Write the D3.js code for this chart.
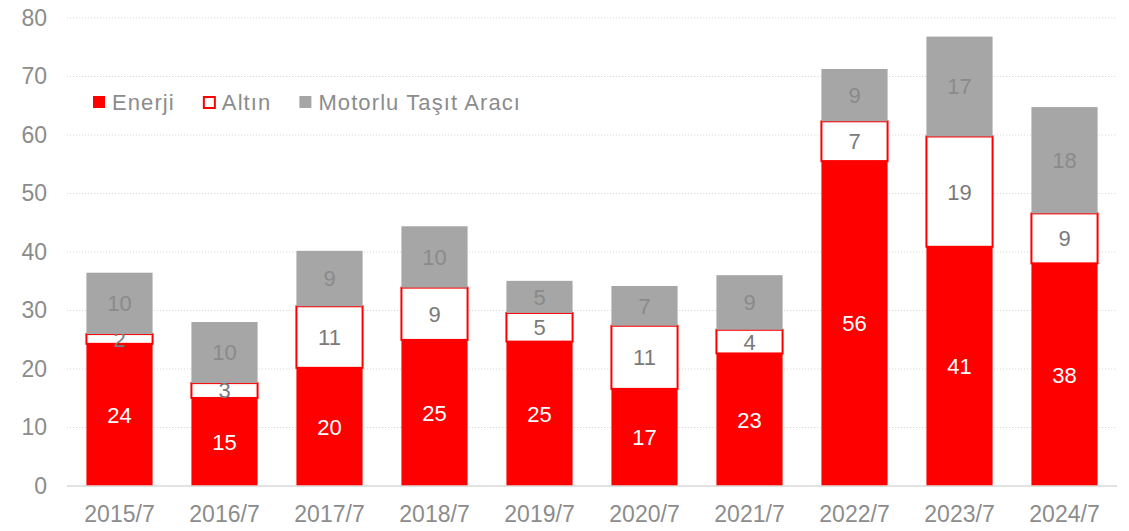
<!DOCTYPE html>
<html>
<head>
<meta charset="utf-8">
<script src="https://cdn.jsdelivr.net/npm/d3@7"></script>
<style>
  body { margin: 0; background: #fff; }
  svg text { font-family: Arial, "Liberation Sans", sans-serif; }
</style>
</head>
<body>
<script>
// Data
const periods = ["2015/7", "2016/7", "2017/7", "2018/7", "2019/7", "2020/7", "2021/7", "2022/7", "2023/7", "2024/7"];
const enerji = [24.3, 15.05, 20.2, 24.97, 24.68, 16.6, 22.66, 55.54, 40.89, 38.06];
const altin  = [1.67, 2.54, 10.52, 8.94, 4.9, 10.79, 4.04, 6.8, 18.86, 8.54];
const motorlu = [10.49, 10.44, 9.48, 10.49, 5.49, 6.8, 9.34, 8.94, 17.07, 18.17];
const yTicks = [0, 10, 20, 30, 40, 50, 60, 70, 80];
const seriesNames = ["Enerji", "Altın", "Motorlu Taşıt Aracı"];

const width = 1129, height = 531;
const margin = { top: 18, right: 12, bottom: 45, left: 67 };
const chartWidth = width - margin.left - margin.right;
const chartHeight = height - margin.top - margin.bottom;

const svg = d3.select("body")
    .append("svg")
    .attr("width", width)
    .attr("height", height)
    .append("g")
    .attr("transform", `translate(${margin.left},${margin.top})`);

const x = d3.scaleBand()
    .domain(periods)
    .range([0, chartWidth])
    .paddingInner(0.37)
    .paddingOuter(0.185);

const y = d3.scaleLinear()
    .domain([0, 80])
    .range([chartHeight, 0]);

// Dotted gridlines
svg.append("g")
    .selectAll("line")
    .data(yTicks.filter(d => d > 0))
    .join("line")
    .attr("x1", 0)
    .attr("x2", chartWidth)
    .attr("y1", d => y(d))
    .attr("y2", d => y(d))
    .attr("stroke", "#d9d9d9")
    .attr("stroke-width", 1.2)
    .attr("stroke-dasharray", "1.2,1.8");

// Y axis labels
const yAxis = svg.append("g")
    .call(d3.axisLeft(y).tickValues(yTicks).tickSize(0).tickPadding(20));
yAxis.select(".domain").remove();
yAxis.selectAll("text")
    .attr("fill", "#8c8c8c")
    .style("font-size", "23px");

// Stack the series
const rows = periods.map((p, i) => ({ period: p, Enerji: enerji[i], "Altın": altin[i], "Motorlu Taşıt Aracı": motorlu[i] }));
const stacked = d3.stack().keys(seriesNames)(rows);

const fills = { "Enerji": "#ff0000", "Altın": "#ffffff", "Motorlu Taşıt Aracı": "#a6a6a6" };
const strokes = { "Enerji": "none", "Altın": "#ff0000", "Motorlu Taşıt Aracı": "none" };
const labelColors = { "Enerji": "#ffffff", "Altın": "#7a7a7a", "Motorlu Taşıt Aracı": "#8a8a8a" };

const layers = svg.append("g")
    .selectAll("g")
    .data(stacked)
    .join("g");

layers.selectAll("rect")
    .data(d => d.map(v => ({ key: d.key, v })))
    .join("rect")
    .attr("x", d => x(d.v.data.period))
    .attr("width", x.bandwidth())
    .attr("y", d => y(d.v[1]))
    .attr("height", d => y(d.v[0]) - y(d.v[1]))
    .attr("fill", d => fills[d.key])
    .attr("stroke", d => strokes[d.key])
    .attr("stroke-width", 2);

// Data labels
layers.selectAll("text")
    .data(d => d.map(v => ({ key: d.key, v })))
    .join("text")
    .attr("x", d => x(d.v.data.period) + x.bandwidth() / 2)
    .attr("y", d => (y(d.v[0]) + y(d.v[1])) / 2)
    .attr("dy", "0.36em")
    .attr("text-anchor", "middle")
    .attr("fill", d => labelColors[d.key])
    .style("font-size", "22px")
    .text(d => Math.round(d.v[1] - d.v[0]));

// Baseline
svg.append("line")
    .attr("x1", 0)
    .attr("x2", chartWidth)
    .attr("y1", y(0))
    .attr("y2", y(0))
    .attr("stroke", "#d9d9d9")
    .attr("stroke-width", 1.5);

// X axis labels
const xAxis = svg.append("g")
    .attr("transform", `translate(0,${chartHeight})`)
    .call(d3.axisBottom(x).tickSize(0).tickPadding(20));
xAxis.select(".domain").remove();
xAxis.selectAll("text")
    .attr("fill", "#8c8c8c")
    .style("font-size", "23px");

// Legend
const legend = svg.append("g")
    .attr("transform", `translate(${93 - margin.left},${102 - margin.top})`);
let lx = 0;
seriesNames.forEach(name => {
    const item = legend.append("g").attr("transform", `translate(${lx},0)`);
    item.append("rect")
        .attr("x", name === "Altın" ? 1 : 0)
        .attr("y", name === "Altın" ? -5 : -6)
        .attr("width", name === "Altın" ? 11 : 12)
        .attr("height", name === "Altın" ? 11 : 12)
        .attr("fill", fills[name])
        .attr("stroke", strokes[name])
        .attr("stroke-width", 2);
    const t = item.append("text")
        .attr("x", 19)
        .attr("dy", "0.36em")
        .attr("fill", "#8c8c8c")
        .style("font-size", "22px")
        .style("letter-spacing", "1.1px")
        .text(name);
    lx += 19 + t.node().getComputedTextLength() + 28;
});
</script>
</body>
</html>
